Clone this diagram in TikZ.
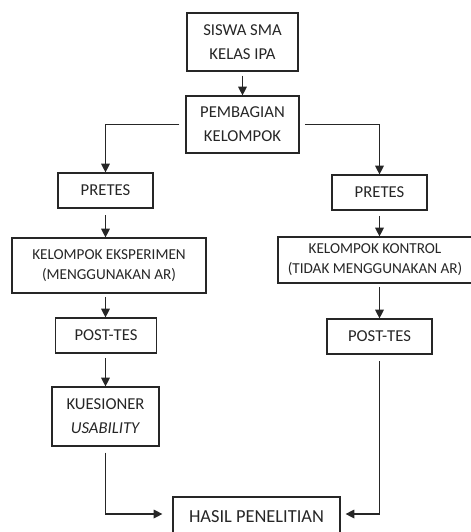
\documentclass[tikz,border=0pt]{standalone}
\usepackage{fontspec}
\setmainfont{Carlito}
\usetikzlibrary{arrows.meta}
\begin{document}
\begin{tikzpicture}[x=0.75pt,y=-0.75pt,
 box/.style 2 args={draw=black!85, line width=0.9pt, inner sep=0pt, align=center,
   minimum width=#1*0.75pt, minimum height=#2*0.75pt, text=black!85},
 arr/.style={draw=black!85, line width=0.9pt, -{Triangle[width=6.5pt,length=6.5pt]}},
 big/.style={font=\fontsize{12.5}{18}\selectfont},
 mid/.style={font=\fontsize{11.4}{15}\selectfont},
 huge/.style={font=\fontsize{13.8}{17}\selectfont},
]
\useasboundingbox (0,0) rectangle (471,532);
\node[box={111}{58}, big] (siswa) at (242.5,42) {SISWA SMA\\KELAS IPA};
\node[box={113}{57}, big] (bagi) at (242.5,124.5) {PEMBAGIAN\\KELOMPOK};
\node[box={95}{35}, big] (preL) at (105.5,190.5) {PRETES};
\node[box={194}{55}, mid] (ke) at (109,265.5) {KELOMPOK EKSPERIMEN\\(MENGGUNAKAN AR)};
\node[box={101}{35}, big] (postL) at (106,335.5) {POST-TES};
\node[box={107}{59}, big] (kues) at (105.5,416.5) {KUESIONER\\\textit{USABILITY}};
\node[box={95}{35}, big] (preR) at (379.5,192.5) {PRETES};
\node[box={194}{46}, mid] (kk) at (375,260) {KELOMPOK KONTROL\\(TIDAK MENGGUNAKAN AR)};
\node[box={105}{35}, big] (postR) at (379.5,336.5) {POST-TES};
\node[box={167}{40}, huge] (hasil) at (256.5,517) {HASIL PENELITIAN};

\draw[arr, shorten <=3pt] (siswa.south) -- (bagi.north);
\draw[arr, shorten <=4.5pt] (bagi.west) -| (preL.north);
\draw[arr, shorten <=4pt] (bagi.east) -| (preR.north);
\draw[arr, shorten <=5pt] (preL.south) -- (preL.south |- ke.north);
\draw[arr, shorten <=2.5pt] (preL.south |- ke.south) -- (preL.south |- postL.north);
\draw[arr, shorten <=3.5pt] (preL.south |- postL.south) -- (preL.south |- kues.north);
\draw[arr, shorten <=4.5pt, shorten >=7.5pt] (kues.south) |- ([yshift=2.25pt]hasil.west);
\draw[arr, shorten <=4pt] (preR.south) -- (preR.south |- kk.north);
\draw[arr, shorten <=2.5pt] (preR.south |- kk.south) -- (preR.south |- postR.north);
\draw[arr, shorten <=5pt, shorten >=3.75pt] (postR.south) |- ([yshift=2.25pt]hasil.east);
\end{tikzpicture}
\end{document}
